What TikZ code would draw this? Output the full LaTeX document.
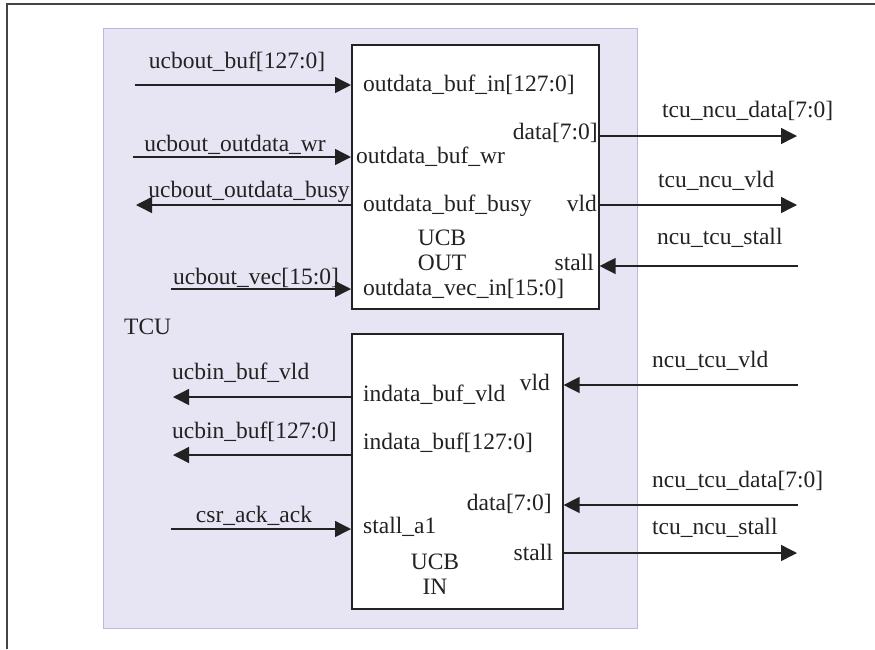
\documentclass[tikz,border=0pt]{standalone}
\usepackage{fontspec}
\setmainfont{Liberation Serif}
\usetikzlibrary{arrows.meta}
\definecolor{tcufill}{HTML}{E7E5F3}
\definecolor{tculine}{HTML}{BDB8DF}
\definecolor{ink}{HTML}{222222}
\begin{document}
\begin{tikzpicture}[x=1pt,y=-1pt,
  every node/.style={font=\fontsize{23.5}{26}\selectfont, inner sep=0pt, text=ink},
  blk/.style={draw=ink, line width=1.6pt, fill=white, anchor=north west},
  arr/.style={draw=ink, line width=1.4pt, -{Triangle[length=16pt,width=16pt]}},
  lbl/.style={anchor=west},
  rlbl/.style={anchor=east},
  clbl/.style={anchor=center, align=center}]
\useasboundingbox (0,0) rectangle (875,649);
% outer frame (top and left only)
\draw[line width=2pt, draw=ink!85] (6.5,649) -- (6.5,3.5) -- (875,3.5);
% TCU region
\node[draw=tculine, fill=tcufill, line width=1.2pt, minimum width=534pt, minimum height=600pt, anchor=north west] (tcu) at (103,28) {};
\node[lbl] (tcul) at (124,327) {TCU};
% blocks
\node[blk, minimum width=247pt, minimum height=264pt] (out) at (351,44) {};
\node[blk, minimum width=211pt, minimum height=275pt] (in) at (351,333) {};
% UCB OUT inner labels
\node[lbl] (o1) at (363,85) {outdata\_buf\_in[127:0]};
\node[lbl] (o2) at (356,157) {outdata\_buf\_wr};
\node[lbl] (o3) at (363,206) {outdata\_buf\_busy};
\node[clbl] (o4) at (442,238) {UCB};
\node[clbl] (o5) at (442,263) {OUT};
\node[lbl] (o6) at (363,289) {outdata\_vec\_in[15:0]};
\node[rlbl] (o7) at (598,133) {data[7:0]};
\node[rlbl] (o8) at (597,203) {vld};
\node[rlbl] (o9) at (594,262) {stall};
% UCB IN inner labels
\node[lbl] (i1) at (363,395) {indata\_buf\_vld};
\node[lbl] (i2) at (363,443) {indata\_buf[127:0]};
\node[lbl] (i3) at (363,527) {stall\_a1};
\node[clbl] (i4) at (435,562) {UCB};
\node[clbl] (i5) at (435,587) {IN};
\node[rlbl] (i6) at (550,382) {vld};
\node[rlbl] (i7) at (552,504) {data[7:0]};
\node[rlbl] (i8) at (553,552) {stall};
% free ends
\coordinate (l1) at (135,85);
\coordinate (l2) at (133,157);
\coordinate (l3) at (136,205);
\coordinate (l4) at (171,289);
\coordinate (l5) at (173,397);
\coordinate (l6) at (173,455);
\coordinate (l7) at (171,529);
\coordinate (r1) at (797,136);
\coordinate (r2) at (797,205);
\coordinate (r3) at (798,266);
\coordinate (r4) at (798,385);
\coordinate (r5) at (798,505);
\coordinate (r6) at (797,553);
% left connectors
\draw[arr] (l1) -- (l1 -| out.west);
\draw[arr] (l2) -- (l2 -| out.west);
\draw[arr] (l3 -| out.west) -- (l3);
\draw[arr] (l4) -- (l4 -| out.west);
\draw[arr] (l5 -| in.west) -- (l5);
\draw[arr] (l6 -| in.west) -- (l6);
\draw[arr] (l7) -- (l7 -| in.west);
% right connectors
\draw[arr] (r1 -| out.east) -- (r1);
\draw[arr] (r2 -| out.east) -- (r2);
\draw[arr] (r3) -- (r3 -| out.east);
\draw[arr] (r4) -- (r4 -| in.east);
\draw[arr] (r5) -- (r5 -| in.east);
\draw[arr] (r6 -| in.east) -- (r6);
% connector labels
\node[clbl] (t1) at (237,62) {ucbout\_buf[127:0]};
\node[clbl] (t2) at (235,145) {ucbout\_outdata\_wr};
\node[clbl] (t3) at (249,192) {ucbout\_outdata\_busy};
\node[clbl] (t4) at (256,278) {ucbout\_vec[15:0]};
\node[lbl] (t5) at (172,373) {ucbin\_buf\_vld};
\node[lbl] (t6) at (172,432) {ucbin\_buf[127:0]};
\node[clbl] (t7) at (254,516) {csr\_ack\_ack};
\node[lbl] (t8) at (662,111) {tcu\_ncu\_data[7:0]};
\node[lbl] (t9) at (658,181) {tcu\_ncu\_vld};
\node[lbl] (t10) at (657,238) {ncu\_tcu\_stall};
\node[lbl] (t11) at (652,361) {ncu\_tcu\_vld};
\node[lbl] (t12) at (652,481) {ncu\_tcu\_data[7:0]};
\node[lbl] (t13) at (652,528) {tcu\_ncu\_stall};
\end{tikzpicture}
\end{document}
